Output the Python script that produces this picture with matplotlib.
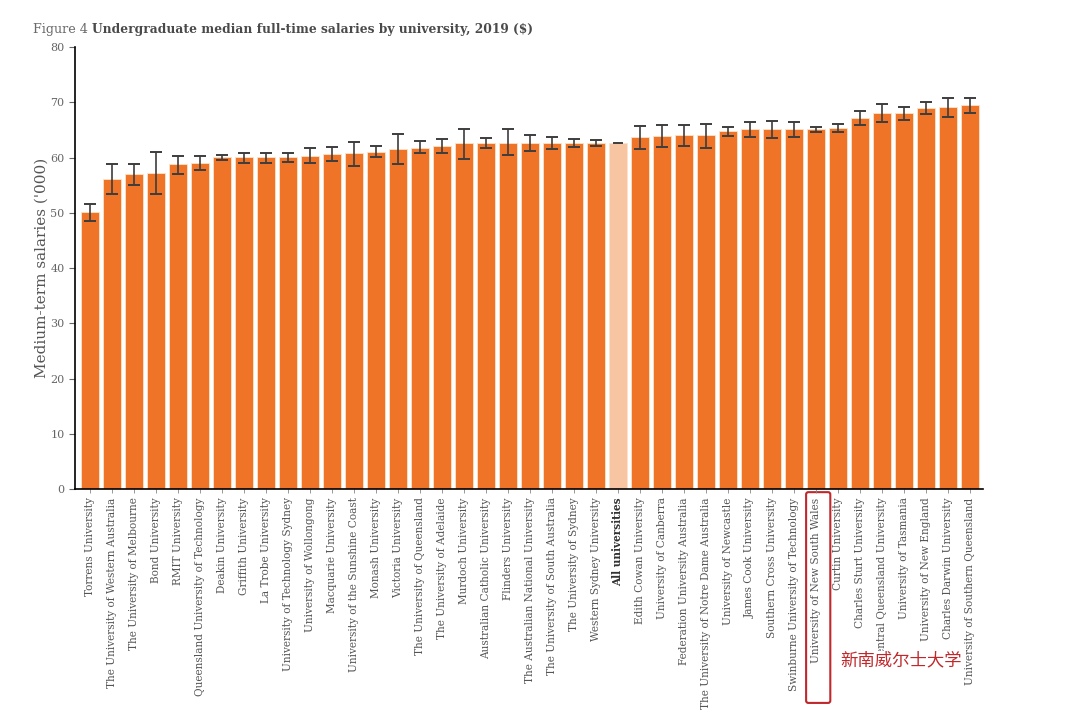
import matplotlib
matplotlib.use("Agg")
import matplotlib.pyplot as plt
import matplotlib.patches as mpatches
import matplotlib.transforms as mtransforms
import numpy as np

# data ('000 $)
universities = [
    "Torrens University", "The University of Western Australia", "The University of Melbourne",
    "Bond University", "RMIT University", "Queensland University of Technology",
    "Deakin University", "Griffith University", "La Trobe University",
    "University of Technology Sydney", "University of Wollongong", "Macquarie University",
    "University of the Sunshine Coast", "Monash University", "Victoria University",
    "The University of Queensland", "The University of Adelaide", "Murdoch University",
    "Australian Catholic University", "Flinders University", "The Australian National University",
    "The University of South Australia", "The University of Sydney", "Western Sydney University",
    "All universities", "Edith Cowan University", "University of Canberra",
    "Federation University Australia", "The University of Notre Dame Australia",
    "University of Newcastle", "James Cook University", "Southern Cross University",
    "Swinburne University of Technology", "University of New South Wales", "Curtin University",
    "Charles Sturt University", "Central Queensland University", "University of Tasmania",
    "University of New England", "Charles Darwin University", "University of Southern Queensland",
]
salary = [50.2, 56.1, 57.0, 57.3, 58.8, 59.1, 60.1, 60.1, 60.1, 60.1, 60.3, 60.6, 60.8, 61.0,
          61.6, 61.8, 62.1, 62.7, 62.7, 62.7, 62.7, 62.7, 62.7, 62.7, 62.7, 63.7, 63.9, 64.1,
          64.1, 64.8, 65.1, 65.1, 65.1, 65.2, 65.3, 67.2, 68.1, 68.1, 69.0, 69.1, 69.5]
ci_low = [48.6, 53.4, 55.1, 53.5, 57.1, 57.7, 59.6, 59.1, 59.1, 59.2, 59.0, 59.4, 58.5, 60.1,
          58.8, 60.8, 60.9, 59.7, 61.8, 60.4, 61.2, 61.6, 62.0, 62.2, 62.7, 61.5, 61.9, 62.1,
          61.8, 63.9, 63.7, 63.5, 63.8, 64.7, 64.6, 65.9, 66.5, 66.9, 67.9, 67.4, 68.1]
ci_high = [51.6, 58.8, 58.8, 61.0, 60.3, 60.3, 60.4, 60.9, 60.9, 60.9, 61.7, 61.9, 62.9, 62.1,
           64.3, 63.0, 63.3, 65.2, 63.6, 65.1, 64.1, 63.8, 63.3, 63.2, 62.7, 65.7, 65.9, 66.0,
           66.1, 65.6, 66.4, 66.7, 66.4, 65.6, 66.1, 68.5, 69.7, 69.2, 70.0, 70.8, 70.8]
highlight = "All universities"
marked = "University of New South Wales"
marked_note = "新南威尔士大学"

ORANGE = "#F07427"
PALE = "#F8C5A2"
RED = "#C0282B"
GREY = "#555555"

plt.rcParams["font.family"] = ["DejaVu Serif"]

fig = plt.figure(figsize=(10.8, 7.15), dpi=100)
ax = fig.add_axes([0.0694, 0.316, 0.841, 0.618])

x = np.arange(len(universities))
salary = np.array(salary)
yerr = np.array([salary - np.array(ci_low), np.array(ci_high) - salary])
colors = [PALE if u == highlight else ORANGE for u in universities]

ax.bar(x, salary, width=0.82, color=colors, edgecolor="#FBE3C8", linewidth=0.6, zorder=2)
mask = np.array([u != highlight for u in universities])
ax.errorbar(x[mask], salary[mask], yerr=yerr[:, mask], fmt="none", ecolor="#3d3d3d",
            elinewidth=1.2, capsize=4.5, capthick=1.4, zorder=3)
# the "All universities" bar only shows a flat line at its top
hi = universities.index(highlight)
ax.plot([hi - 0.2, hi + 0.2], [salary[hi], salary[hi]], color="#3d3d3d", lw=1.4, zorder=3)

ax.set_xlim(-0.68, 40.6)
ax.set_ylim(0, 80)
ax.set_yticks(range(0, 81, 10))
ax.set_xticks(x)
ax.set_xticklabels(universities, rotation=90, fontsize=7.6, color=GREY)
ax.get_xticklabels()[hi].set_fontweight("bold")
ax.get_xticklabels()[hi].set_color("#333333")
ax.tick_params(axis="y", labelsize=8, colors="#666666", length=4, width=0.8)
ax.tick_params(axis="x", length=3, width=0.6, color="#888888", pad=3)
for s in ["top", "right"]:
    ax.spines[s].set_visible(False)
ax.spines["left"].set_linewidth(1.2)
ax.spines["bottom"].set_linewidth(1.2)
ax.set_ylabel("Medium-term salaries ('000)", fontsize=11, color=GREY, labelpad=1)

# title: light "Figure 4" then bold heading
t1 = fig.text(33 / 1080, 1 - 33 / 715, "Figure 4", fontsize=9.2, color="#6a6a6a", va="baseline")
ax.annotate("Undergraduate median full-time salaries by university, 2019 ($)",
            xy=(1, 0), xycoords=t1, xytext=(3, 0), textcoords="offset points",
            fontsize=8.8, fontweight="bold", color="#4a4a4a", va="bottom",
            annotation_clip=False)

# red box around the UNSW label and Chinese note
mi = universities.index(marked)
trans = mtransforms.blended_transform_factory(ax.transData, ax.transAxes)
ax.add_patch(mpatches.FancyBboxPatch((mi - 0.45, -0.484), 1.1, 0.477,
                                     boxstyle="round,pad=0,rounding_size=0.1",
                                     transform=trans, fill=False, edgecolor=RED,
                                     linewidth=1.5, clip_on=False, mutation_aspect=0.05))
ax.text(mi + 3.85, -0.387, marked_note, transform=trans, fontsize=12.5, color=RED,
        ha="center", va="center", family=["Noto Sans CJK SC", "DejaVu Sans"],
        bbox=dict(facecolor="white", edgecolor="none", pad=0.3))

fig.savefig("out.png", dpi=100)
